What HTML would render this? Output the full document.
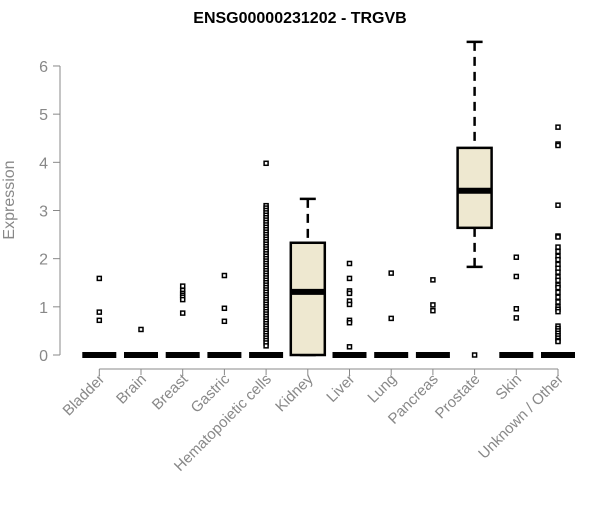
<!DOCTYPE html>
<html><head><meta charset="utf-8"><style>
body{margin:0;background:#fff}
svg text{font-family:"Liberation Sans",Arial,sans-serif}
</style></head><body>
<svg id="chart" width="600" height="500"></svg>
<script>
const categories=["Bladder","Brain","Breast","Gastric","Hematopoietic cells","Kidney","Liver","Lung","Pancreas","Prostate","Skin","Unknown / Other"];
const q1=[0,0,0,0,0,0,0,0,0,2.64,0,0];
const medians=[0,0,0,0,0,1.31,0,0,0,3.41,0,0];
const q3=[0,0,0,0,0,2.33,0,0,0,4.30,0,0];
const whiskLow=[0,0,0,0,0,0,0,0,0,1.83,0,0];
const whiskHigh=[0,0,0,0,0,3.24,0,0,0,6.50,0,0];
const outliers=[
[1.59,0.89,0.72],
[0.53],
[1.43,1.34,1.28,1.24,1.20,1.15,0.87],
[1.65,0.97,0.70],
[3.98,3.10,3.05,3.00,2.95,2.90,2.85,2.80,2.75,2.70,2.65,2.60,2.55,2.50,2.45,2.40,2.35,2.30,2.25,2.20,2.15,2.10,2.05,2.00,1.95,1.90,1.85,1.80,1.75,1.70,1.65,1.60,1.55,1.50,1.45,1.40,1.35,1.30,1.25,1.20,1.15,1.10,1.05,1.00,0.95,0.90,0.85,0.80,0.75,0.70,0.65,0.60,0.55,0.50,0.45,0.40,0.35,0.30,0.25,0.19],
[],
[1.90,1.59,1.33,1.28,1.12,1.05,0.72,0.67,0.17],
[1.70,0.76],
[1.56,1.04,0.92],
[0],
[2.03,1.63,0.96,0.77],
[4.73,4.38,4.35,3.11,2.47,2.45,2.24,2.15,2.05,1.98,1.88,1.80,1.72,1.62,1.55,1.45,1.40,1.30,1.20,1.10,1.00,0.95,0.90,0.60,0.55,0.50,0.45,0.40,0.35,0.30,0.28]
];
const yTicks=[0,1,2,3,4,5,6];
const NS="http://www.w3.org/2000/svg";
const svg=document.getElementById('chart');
const y=v=>355-v*48.17;
const x=i=>99.3+41.7*i;
function mk(t,a,p){const e=document.createElementNS(NS,t);for(const k in a)e.setAttribute(k,a[k]);(p||svg).appendChild(e);return e;}
let t=mk('text',{x:300,y:23,'text-anchor':'middle','font-size':16,'font-weight':'bold',fill:'#000'});t.textContent="ENSG00000231202 - TRGVB";


let yl=mk('text',{x:0,y:0,transform:'translate(14,200) rotate(-90)','text-anchor':'middle','font-size':16,fill:'#888'});yl.textContent="Expression";


let ya=mk('line',{x1:60,x2:60,y1:y(0),y2:y(6),stroke:'#888'});


yTicks.forEach(v=>{
 mk('line',{x1:53,x2:60,y1:y(v),y2:y(v),stroke:'#888'});
 const l=mk('text',{x:48,y:y(v)+6,'text-anchor':'end','font-size':16,fill:'#888'});l.textContent=v;
 
 
});
let xa=mk('line',{x1:x(0),x2:x(11),y1:369,y2:369,stroke:'#888'});


categories.forEach((c,i)=>{
 const cx=x(i);
 mk('line',{x1:cx,x2:cx,y1:369,y2:375,stroke:'#888'});
 const l=mk('text',{x:0,y:0,transform:`translate(${cx+6},${380}) rotate(-45)`,'text-anchor':'end','font-size':15,fill:'#888'});l.textContent=c;
 
 
 const g=mk('g',{});
 
 
 const hw=17;
 if(q3[i]>q1[i]){
  mk('line',{x1:cx,x2:cx,y1:y(whiskHigh[i]),y2:y(q3[i]),stroke:'#000','stroke-width':2.5,'stroke-dasharray':'9,6'},g);
  mk('line',{x1:cx,x2:cx,y1:y(q1[i]),y2:y(whiskLow[i]),stroke:'#000','stroke-width':2.5,'stroke-dasharray':'9,6'},g);
  mk('line',{x1:cx-8,x2:cx+8,y1:y(whiskHigh[i]),y2:y(whiskHigh[i]),stroke:'#000','stroke-width':2.5},g);
  mk('line',{x1:cx-8,x2:cx+8,y1:y(whiskLow[i]),y2:y(whiskLow[i]),stroke:'#000','stroke-width':2.5},g);
  mk('rect',{x:cx-hw,y:y(q3[i]),width:2*hw,height:y(q1[i])-y(q3[i]),fill:'#eee8d0',stroke:'#000','stroke-width':2.5},g);
 }
 mk('line',{x1:cx-hw,x2:cx+hw,y1:y(medians[i]),y2:y(medians[i]),stroke:'#000','stroke-width':6},g);
 outliers[i].forEach(v=>{
  const p=mk('rect',{x:cx-2,y:y(v)-2,width:4,height:4,fill:'#fff',stroke:'#000','stroke-width':1.5},g);
  
  
 });
});
</script>
</body></html>
